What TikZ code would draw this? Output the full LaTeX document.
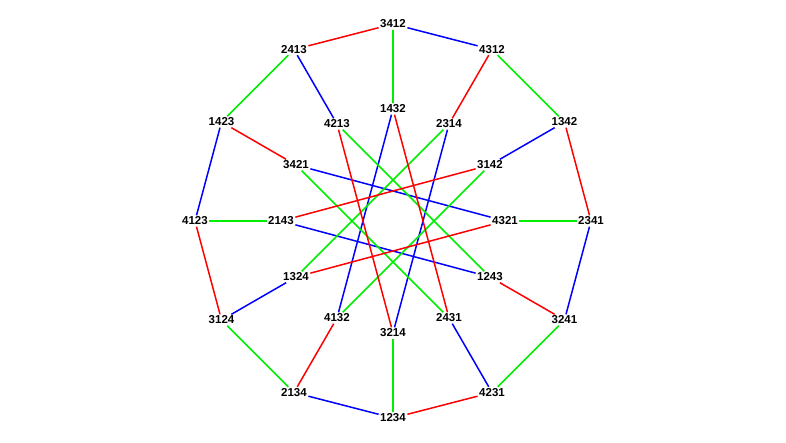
\documentclass[tikz,border=0pt]{standalone}
\usepackage{fontspec}
\setmainfont{Liberation Sans}
\usepackage{xcolor}
\usepackage{tikz}
\definecolor{swapab}{HTML}{0000FF}
\definecolor{swapac}{HTML}{00EE00}
\definecolor{swapad}{HTML}{FF0000}
\tikzset{
  perm/.style={font=\fontsize{11.5}{13}\selectfont\bfseries, inner sep=1.6pt, outer sep=0pt},
  gen/.style={line width=1.5pt, line cap=butt},
  tab/.style={gen, draw=swapab},
  tac/.style={gen, draw=swapac},
  tad/.style={gen, draw=swapad}
}

\begin{document}
\begin{tikzpicture}[x=1pt,y=1pt]
\path[use as bounding box] (-393,-221) rectangle (393,221);
\fill[white] (-393,-221) rectangle (393,221);

% outer ring
\node[perm] (p3412) at (90:197) {3412};
\node[perm] (p2413) at (120:198) {2413};
\node[perm] (p1423) at (150:198) {1423};
\node[perm] (p4123) at (180:198) {4123};
\node[perm] (p3124) at (210:198) {3124};
\node[perm] (p2134) at (240:198) {2134};
\node[perm] (p1234) at (270:197) {1234};
\node[perm] (p4231) at (300:198) {4231};
\node[perm] (p3241) at (330:198) {3241};
\node[perm] (p2341) at (0:198) {2341};
\node[perm] (p1342) at (30:198) {1342};
\node[perm] (p4312) at (60:198) {4312};

% inner ring
\node[perm] (p1432) at (90:112) {1432};
\node[perm] (p4213) at (120:112) {4213};
\node[perm] (p3421) at (150:112) {3421};
\node[perm] (p2143) at (180:112) {2143};
\node[perm] (p1324) at (210:112) {1324};
\node[perm] (p4132) at (240:112) {4132};
\node[perm] (p3214) at (270:112) {3214};
\node[perm] (p2431) at (300:112) {2431};
\node[perm] (p1243) at (330:112) {1243};
\node[perm] (p4321) at (0:112) {4321};
\node[perm] (p3142) at (30:112) {3142};
\node[perm] (p2314) at (60:112) {2314};

% outer cycle
\draw[tab] (p3412) -- (p4312);
\draw[tac] (p4312) -- (p1342);
\draw[tad] (p1342) -- (p2341);
\draw[tab] (p2341) -- (p3241);
\draw[tac] (p3241) -- (p4231);
\draw[tad] (p4231) -- (p1234);
\draw[tab] (p1234) -- (p2134);
\draw[tac] (p2134) -- (p3124);
\draw[tad] (p3124) -- (p4123);
\draw[tab] (p4123) -- (p1423);
\draw[tac] (p1423) -- (p2413);
\draw[tad] (p2413) -- (p3412);

% spokes
\draw[tac] (p3412) -- (p1432);
\draw[tad] (p4312) -- (p2314);
\draw[tab] (p1342) -- (p3142);
\draw[tac] (p2341) -- (p4321);
\draw[tad] (p3241) -- (p1243);
\draw[tab] (p4231) -- (p2431);
\draw[tac] (p1234) -- (p3214);
\draw[tad] (p2134) -- (p4132);
\draw[tab] (p3124) -- (p1324);
\draw[tac] (p4123) -- (p2143);
\draw[tad] (p1423) -- (p3421);
\draw[tab] (p2413) -- (p4213);

% inner star
\draw[tab] (p1432) -- (p4132);
\draw[tab] (p3421) -- (p4321);
\draw[tab] (p2143) -- (p1243);
\draw[tab] (p3214) -- (p2314);
\draw[tac] (p4213) -- (p1243);
\draw[tac] (p3421) -- (p2431);
\draw[tac] (p1324) -- (p2314);
\draw[tac] (p4132) -- (p3142);
\draw[tad] (p1432) -- (p2431);
\draw[tad] (p4213) -- (p3214);
\draw[tad] (p2143) -- (p3142);
\draw[tad] (p1324) -- (p4321);
\end{tikzpicture}
\end{document}
